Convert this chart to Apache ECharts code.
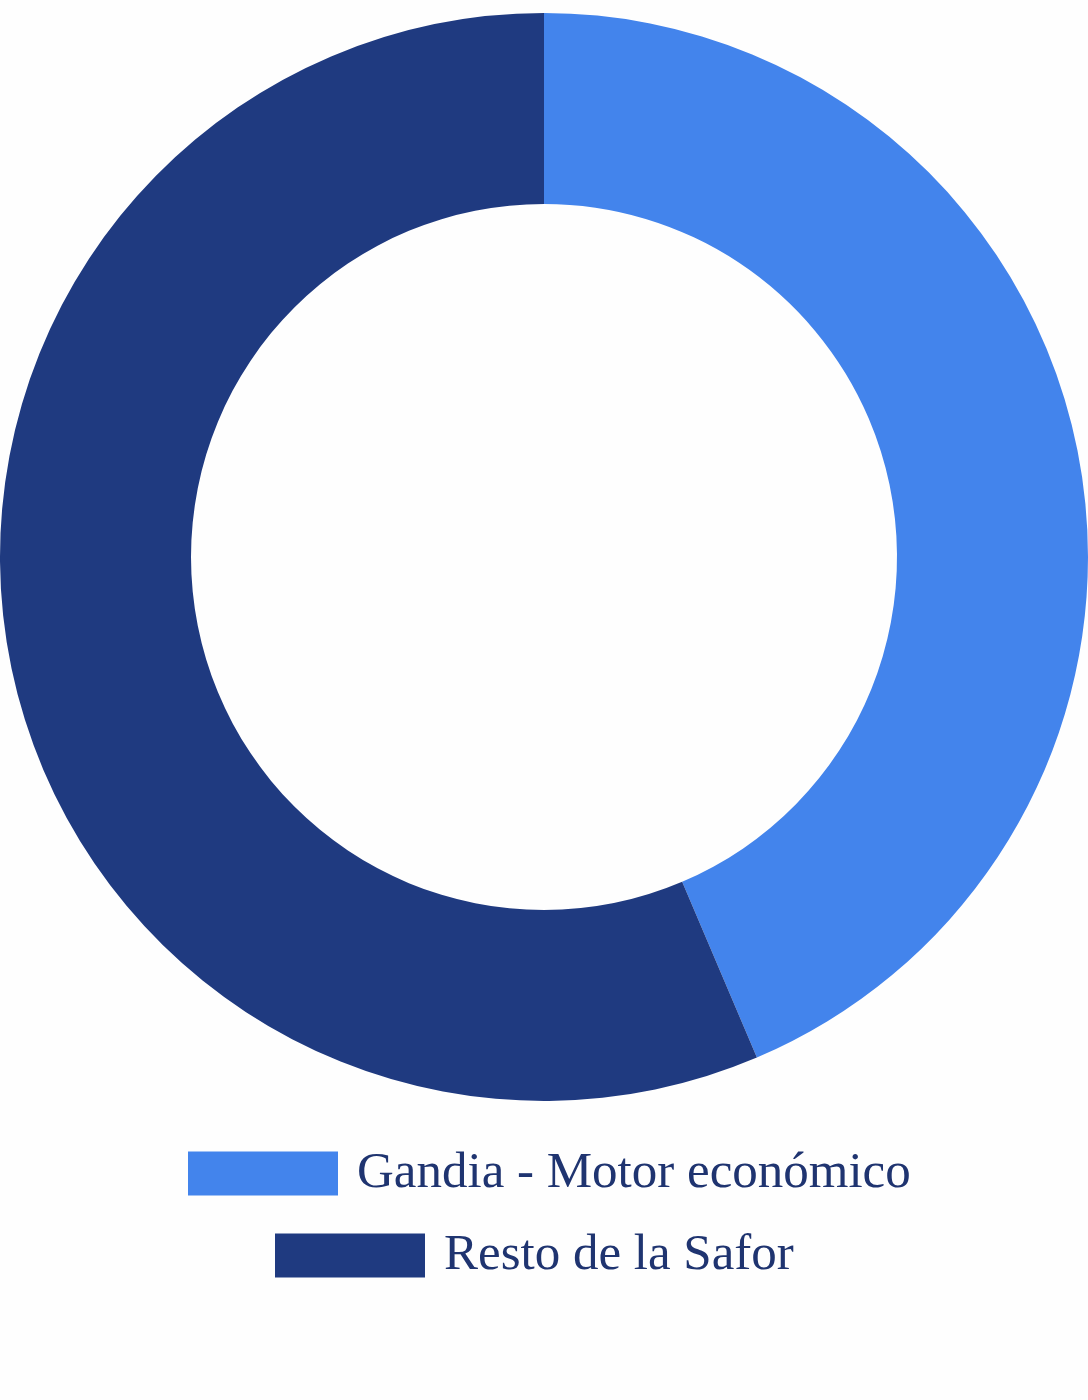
<!DOCTYPE html>
<html lang="es">
<head>
    <meta charset="UTF-8">
    <title>Gandia - Safor</title>
    <script src="https://cdn.jsdelivr.net/npm/echarts@6/dist/echarts.min.js"></script>
    <style>
        html, body { margin: 0; padding: 0; background: #fefefe; }
        #donut { width: 1088px; height: 1400px; }
    </style>
</head>
<body>
<div id="donut"></div>
<script type="text/javascript">
    // datos
    var categorias = ['Gandia - Motor económico', 'Resto de la Safor'];
    var valores = [43.6, 56.4];
    var colores = ['#4384ec', '#1f3a80'];

    var myChart = echarts.init(document.getElementById('donut'));

    var datos = [];
    for (var i = 0; i < categorias.length; i++) {
        datos.push({ name: categorias[i], value: valores[i], itemStyle: { color: colores[i] } });
    }

    function leyenda(nombre, left, top) {
        return {
            data: [nombre],
            left: left,
            top: top,
            icon: 'rect',
            itemWidth: 150,
            itemHeight: 44,
            selectedMode: false,
            textStyle: {
                fontFamily: 'Liberation Serif',
                fontSize: 51,
                color: '#1f3470',
                padding: [0, 0, 0, 14]
            }
        };
    }

    var option = {
        backgroundColor: '#fefefe',
        animation: false,
        legend: [
            leyenda(categorias[0], 183, 1143),
            leyenda(categorias[1], 270, 1225)
        ],
        series: [{
            type: 'pie',
            center: [544, 557],
            radius: [353, 544],
            startAngle: 90,
            clockwise: true,
            label: { show: false },
            labelLine: { show: false },
            itemStyle: { borderWidth: 0 },
            emphasis: { scale: false },
            data: datos
        }]
    };
    myChart.setOption(option);
</script>
</body>
</html>
